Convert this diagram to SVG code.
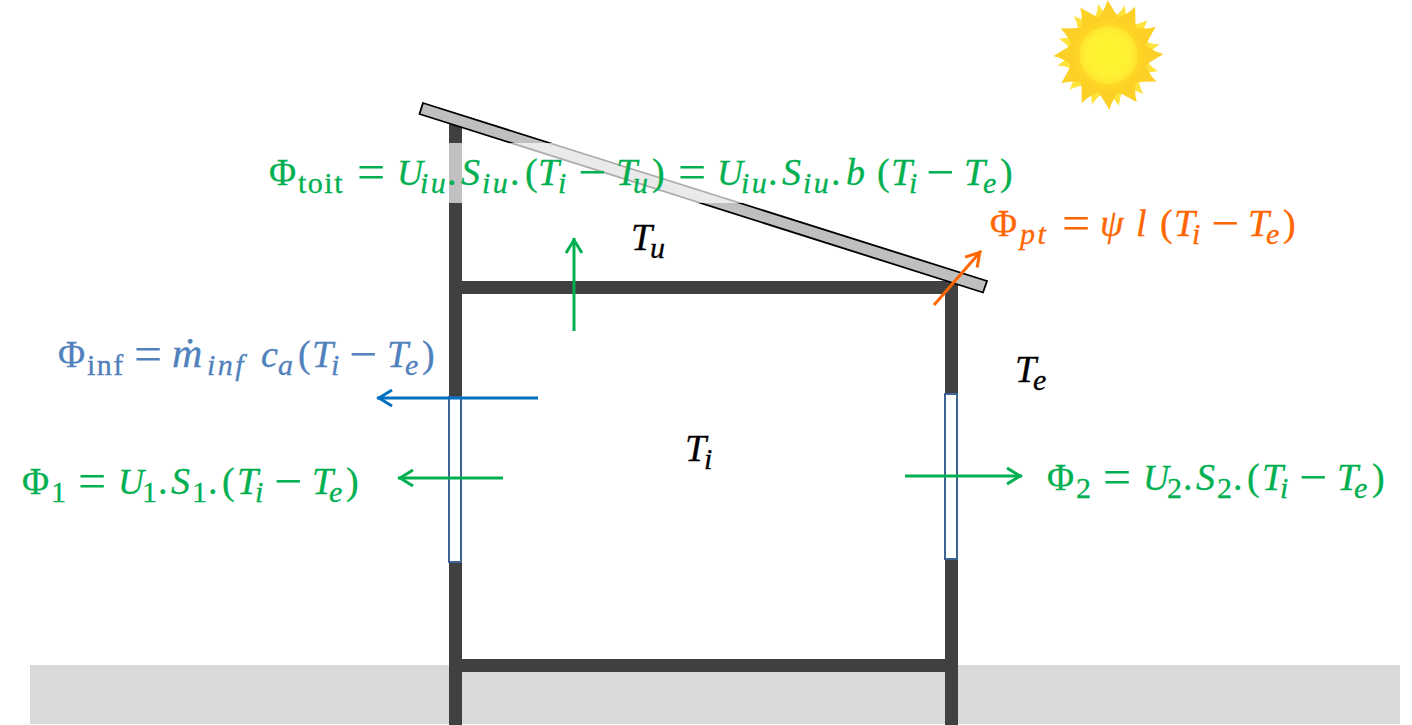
<svg xmlns="http://www.w3.org/2000/svg" width="1412" height="725" viewBox="0 0 1412 725">
<style>
text{font-family:"Liberation Serif","Times New Roman",serif;font-size:38px;stroke-width:.3px}
.i{font-style:italic}
.u{font-style:italic;font-size:36px}
.p{font-size:37px}
.s{font-size:30px;letter-spacing:1.500px}
.si{font-size:30px;font-style:italic;letter-spacing:2.500px}
.o{font-size:50px;stroke-width:0}
.g{fill:#00b050;stroke:#00b050}.b{fill:#4f81bd;stroke:#4f81bd}.r{fill:#ff6600;stroke:#ff6600}.k{fill:#000;stroke:#000}
.wall{fill:#404040}
.win{fill:#fff;stroke:#3e6494;stroke-width:2}
.c{fill:none;stroke-width:3}
</style>
<defs>
<marker id="ag" markerUnits="userSpaceOnUse" markerWidth="20" markerHeight="20" refX="19" refY="10" orient="auto" viewBox="0 0 20 20"><path d="M4,2 L17,10 L4,18" fill="none" stroke="#00b050" stroke-width="3"/></marker>
<marker id="ab" markerUnits="userSpaceOnUse" markerWidth="20" markerHeight="20" refX="19" refY="10" orient="auto" viewBox="0 0 20 20"><path d="M4,2 L17,10 L4,18" fill="none" stroke="#0070c0" stroke-width="3"/></marker>
<marker id="ar" markerUnits="userSpaceOnUse" markerWidth="20" markerHeight="20" refX="19" refY="10" orient="auto" viewBox="0 0 20 20"><path d="M4,2 L17,10 L4,18" fill="none" stroke="#ff6600" stroke-width="3"/></marker>
<radialGradient id="sg"><stop offset="0" stop-color="#fff52e"/><stop offset=".75" stop-color="#fff034"/><stop offset="1" stop-color="#ffe42e"/></radialGradient>
<radialGradient id="dg"><stop offset=".7" stop-color="#ffd927"/><stop offset="1" stop-color="#fdd024"/></radialGradient>
<path id="sp2" d="M-13,-30 Q-1,-39 3,-52 Q8,-39 13,-30 Z" fill="#ffe23a"/>
</defs>
<g id="ground"><rect x="30" y="665" width="1370" height="59" fill="#d9d9d9"/></g>
<g id="sun" transform="translate(1108.500 55)">
<use href="#sp2" transform="rotate(15)"/><use href="#sp2" transform="rotate(45)"/><use href="#sp2" transform="rotate(75)"/><use href="#sp2" transform="rotate(105)"/><use href="#sp2" transform="rotate(135)"/><use href="#sp2" transform="rotate(165)"/><use href="#sp2" transform="rotate(195)"/><use href="#sp2" transform="rotate(225)"/><use href="#sp2" transform="rotate(255)"/><use href="#sp2" transform="rotate(285)"/><use href="#sp2" transform="rotate(315)"/><use href="#sp2" transform="rotate(345)"/>
<g fill="#fdd028"><path id="sp1b" d="M-16,-30 Q-4,-42 -1,-55 Q6,-42 16,-30 Z"/>
<use href="#sp1b" transform="rotate(30)"/><use href="#sp1b" transform="rotate(60)"/><use href="#sp1b" transform="rotate(90)"/><use href="#sp1b" transform="rotate(120)"/><use href="#sp1b" transform="rotate(150)"/><use href="#sp1b" transform="rotate(180)"/><use href="#sp1b" transform="rotate(210)"/><use href="#sp1b" transform="rotate(240)"/><use href="#sp1b" transform="rotate(270)"/><use href="#sp1b" transform="rotate(300)"/><use href="#sp1b" transform="rotate(330)"/>
</g>
<circle r="38" fill="url(#dg)"/>
<circle r="29" fill="url(#sg)"/>
</g>
<g id="house">
<rect class="wall" x="449" y="115" width="13" height="610"/>
<rect class="wall" x="945" y="281" width="13" height="444"/>
<rect class="wall" x="449" y="281" width="509" height="13"/>
<rect class="wall" x="449" y="659" width="509" height="13"/>
</g>
<g id="roof"><polygon points="423,103 987,281 983,292.500 419.500,114" fill="#bfbfbf" stroke="#000" stroke-width="1.800"/></g>
<g id="window-1"><rect class="win" x="449" y="397" width="12" height="165"/></g>
<g id="window-2"><rect class="win" x="945" y="394" width="12" height="165"/></g>
<g id="veil"><rect x="237" y="143" width="776" height="60" fill="#fff" opacity=".68"/></g>
<g id="connectors">
<line class="c" x1="574" y1="331" x2="574" y2="238" stroke="#00b050" marker-end="url(#ag)"/>
<line class="c" x1="934" y1="305" x2="981" y2="251" stroke="#ff6600" marker-end="url(#ar)"/>
<line class="c" x1="538" y1="398" x2="377" y2="398" stroke="#0070c0" marker-end="url(#ab)"/>
<line class="c" x1="503" y1="478" x2="398" y2="478" stroke="#00b050" marker-end="url(#ag)"/>
<line class="c" x1="905" y1="476" x2="1022" y2="476" stroke="#00b050" marker-end="url(#ag)"/>
</g>
<g id="label-toit">
<text class="g" y="185"><tspan class="p" x="269">Φ</tspan><tspan class="s" x="298" y="193">toit</tspan><tspan class="o" x="357" y="189">=</tspan><tspan class="u" x="397" y="185">U</tspan><tspan class="si" x="420" y="193">iu</tspan><tspan x="447" y="185">.</tspan><tspan class="i" x="461">S</tspan><tspan class="si" x="482" y="193">iu</tspan><tspan x="510" y="185">.</tspan><tspan x="525">(</tspan><tspan class="i" x="538">T</tspan><tspan class="si" x="558" y="193">i</tspan><tspan class="o" x="578" y="189">−</tspan><tspan class="i" x="616" y="185">T</tspan><tspan class="si" x="633" y="193">u</tspan><tspan x="652" y="185">)</tspan><tspan class="o" x="678" y="189">=</tspan><tspan class="u" x="717" y="185">U</tspan><tspan class="si" x="741" y="193">iu</tspan><tspan x="768" y="185">.</tspan><tspan class="i" x="782">S</tspan><tspan class="si" x="803" y="193">iu</tspan><tspan x="831" y="185">.</tspan><tspan class="i" x="846">b</tspan><tspan x="877">(</tspan><tspan class="i" x="891">T</tspan><tspan class="si" x="909" y="193">i</tspan><tspan class="o" x="926" y="189">−</tspan><tspan class="i" x="964" y="185">T</tspan><tspan class="si" x="983" y="193">e</tspan><tspan x="1000" y="185">)</tspan></text>
</g>
<g id="label-pt">
<text class="r" y="236"><tspan class="p" x="990">Φ</tspan><tspan class="si" x="1020" y="244">pt</tspan><tspan class="o" x="1062" y="240">=</tspan><tspan class="i" x="1100" y="236">ψ</tspan><tspan class="i" x="1136">l</tspan><tspan x="1160">(</tspan><tspan class="i" x="1174">T</tspan><tspan class="si" x="1192" y="244">i</tspan><tspan class="o" x="1211" y="240">−</tspan><tspan class="i" x="1248" y="236">T</tspan><tspan class="si" x="1266" y="244">e</tspan><tspan x="1283" y="236">)</tspan></text>
</g>
<g id="label-inf">
<text class="b" y="367"><tspan class="p" x="58">Φ</tspan><tspan class="s" x="87" y="375">inf</tspan><tspan class="o" x="134" y="371">=</tspan><tspan class="i" style="font-size:42px" x="172" y="367">ṁ</tspan><tspan class="si" x="207" y="375">inf</tspan><tspan class="i" x="261" y="367">c</tspan><tspan class="si" x="278" y="375">a</tspan><tspan x="298" y="367">(</tspan><tspan class="i" x="312">T</tspan><tspan class="si" x="331" y="375">i</tspan><tspan class="o" x="349" y="371">−</tspan><tspan class="i" x="387" y="367">T</tspan><tspan class="si" x="405" y="375">e</tspan><tspan x="422" y="367">)</tspan></text>
</g>
<g id="label-1">
<text class="g" y="494"><tspan class="p" x="22">Φ</tspan><tspan class="s" x="51" y="502">1</tspan><tspan class="o" x="78" y="498">=</tspan><tspan class="u" x="118" y="494">U</tspan><tspan class="s" x="142" y="502">1</tspan><tspan x="158" y="494">.</tspan><tspan class="i" x="171">S</tspan><tspan class="s" x="192" y="502">1</tspan><tspan x="208" y="494">.</tspan><tspan x="222">(</tspan><tspan class="i" x="237">T</tspan><tspan class="si" x="255" y="502">i</tspan><tspan class="o" x="274" y="498">−</tspan><tspan class="i" x="312" y="494">T</tspan><tspan class="si" x="329" y="502">e</tspan><tspan x="346" y="494">)</tspan></text>
</g>
<g id="label-2">
<text class="g" y="490"><tspan class="p" x="1047">Φ</tspan><tspan class="s" x="1076" y="498">2</tspan><tspan class="o" x="1103" y="494">=</tspan><tspan class="u" x="1143" y="490">U</tspan><tspan class="s" x="1167" y="498">2</tspan><tspan x="1183" y="490">.</tspan><tspan class="i" x="1196">S</tspan><tspan class="s" x="1217" y="498">2</tspan><tspan x="1233" y="490">.</tspan><tspan x="1247">(</tspan><tspan class="i" x="1262">T</tspan><tspan class="si" x="1280" y="498">i</tspan><tspan class="o" x="1299" y="494">−</tspan><tspan class="i" x="1337" y="490">T</tspan><tspan class="si" x="1354" y="498">e</tspan><tspan x="1372" y="490">)</tspan></text>
</g>
<g id="label-tu"><text class="k" y="250"><tspan class="i" x="631">T</tspan><tspan class="si" x="650" y="258">u</tspan></text></g>
<g id="label-ti"><text class="k" y="461"><tspan class="i" x="685">T</tspan><tspan class="si" x="704" y="469">i</tspan></text></g>
<g id="label-te"><text class="k" y="382"><tspan class="i" x="1015">T</tspan><tspan class="si" x="1033" y="390">e</tspan></text></g>
</svg>
